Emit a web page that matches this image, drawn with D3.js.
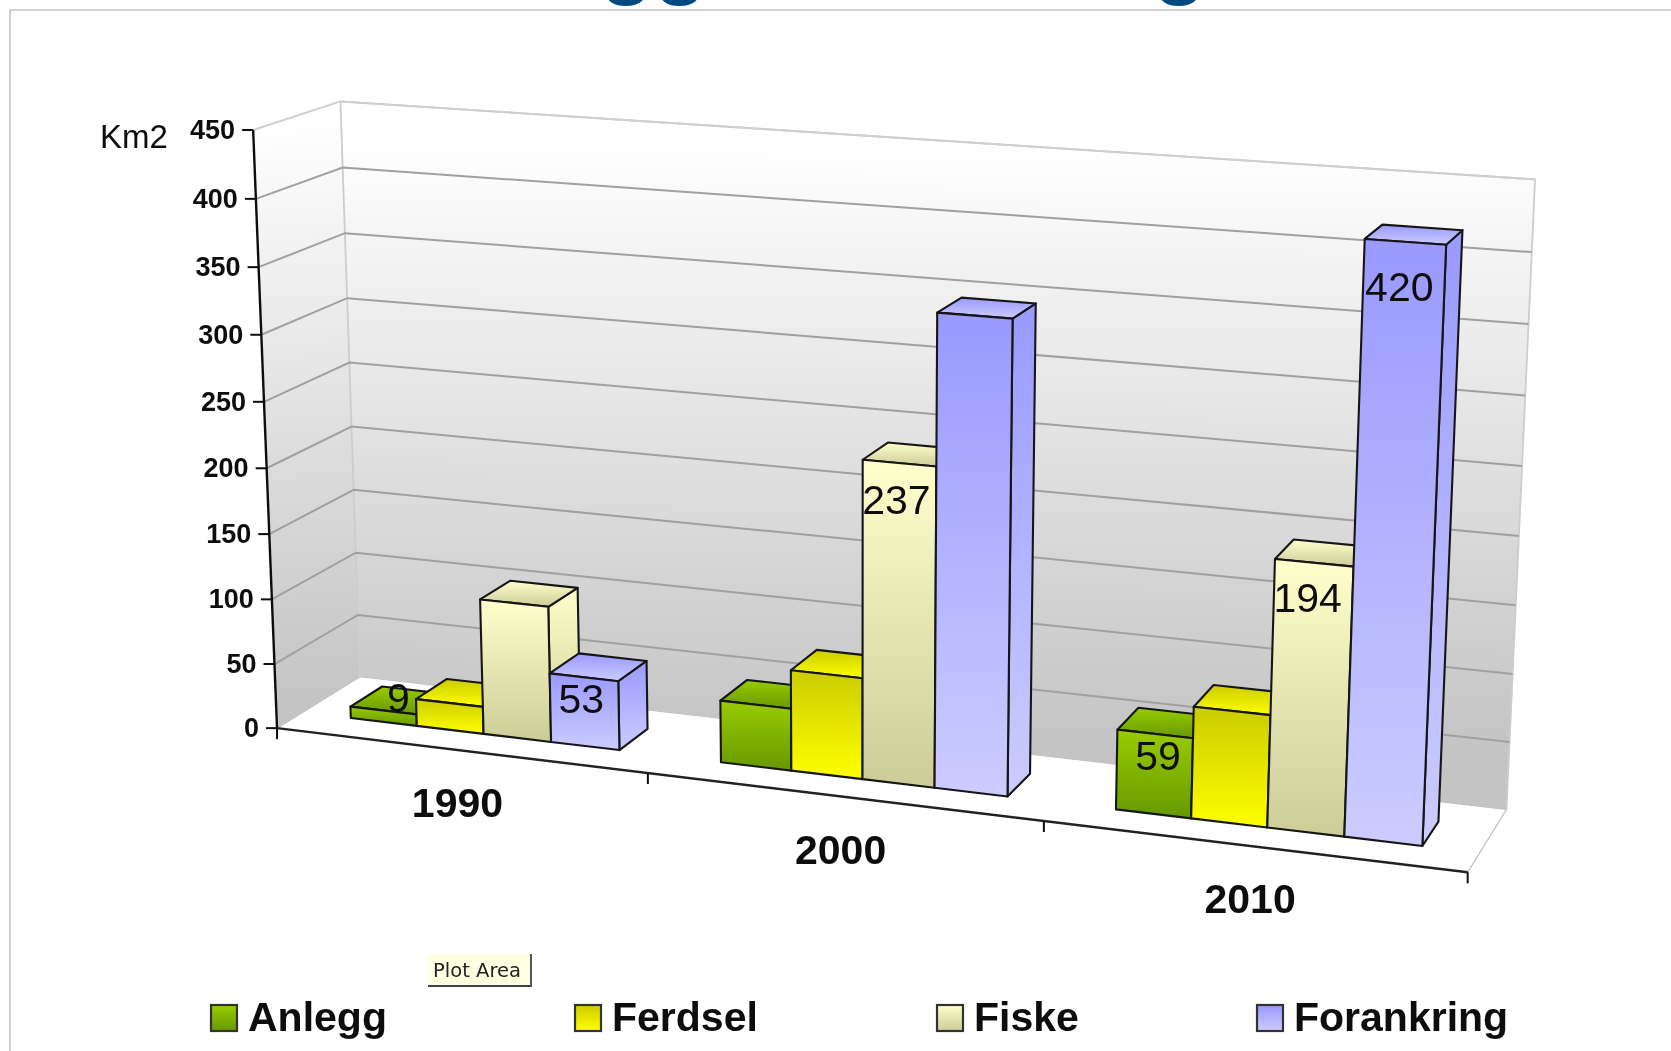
<!DOCTYPE html>
<html><head><meta charset="utf-8">
<script src="https://cdn.jsdelivr.net/npm/d3@7/dist/d3.min.js"></script>
<style>html,body{margin:0;padding:0;background:#fff;overflow:hidden}svg{display:block}text{font-family:"Liberation Sans",Arial,sans-serif}</style>
</head><body><svg id="c" width="1671" height="1051"></svg>
<script>
const categories = ["1990","2000","2010"];
const seriesNames = ["Anlegg","Ferdsel","Fiske","Forankring"];
const anlegg = [9,47,59];
const ferdsel = [21,76,82];
const fiske = [104,237,194];
const forankring = [53,347,420];
const allSeries = [anlegg,ferdsel,fiske,forankring];
const valueTicks = d3.range(0,451,50);
// which values carry a printed label: [series, category, nudge x, nudge y]
const labelled = [[0,0,15,-28.6],[3,0,-2.5,5.5],[2,1,-3,21],[0,2,3,6.5],[2,2,-6.5,19],[3,2,-6,29.5]];
const seriesTop = ["#99cc00","#cccc00","#ffffcc","#9999ff"];
const seriesBottom = ["#669900","#ffff00","#cccc99","#ccccff"];

// perspective camera fitted to the box corners of the plot
const anchors = [
 [0,0,0,277,727.7],[0,1,0,252.6,131],[0,0,1,360,677],[0,1,1,341,100.5],
 [3,0,1,1506,810],[3,1,1,1535,179.3],[3,0,0,1468.3,871.7]];
function fitCamera(pts){
  const A=[],b=[];
  pts.forEach(([x,y,z,u,v])=>{
    A.push([x,y,z,1,0,0,0,0,-u*x,-u*y,-u*z]);b.push(u);
    A.push([0,0,0,0,x,y,z,1,-v*x,-v*y,-v*z]);b.push(v);
  });
  const n=11,M=d3.range(n).map(i=>d3.range(n+1).map(j=>{
    let s=0;A.forEach((r,k)=>{s+=r[i]*(j<n?r[j]:b[k]);});return s;}));
  for(let i=0;i<n;i++){
    let p=i;for(let k=i+1;k<n;k++)if(Math.abs(M[k][i])>Math.abs(M[p][i]))p=k;
    [M[i],M[p]]=[M[p],M[i]];
    for(let k=0;k<n;k++)if(k!==i){const f=M[k][i]/M[i][i];for(let j=i;j<=n;j++)M[k][j]-=f*M[i][j];}
  }
  return M.map((r,i)=>r[n]/r[i]);
}
const cam=fitCamera(anchors);
const yScale=d3.scaleLinear().domain([0,450]).range([0,1]);
const xScale=d3.scaleBand().domain(categories).range([0,3]).padding(0).paddingInner(0);
const P=(x,v,z)=>{
  const y=yScale(v),w=cam[8]*x+cam[9]*y+cam[10]*z+1;
  return [(cam[0]*x+cam[1]*y+cam[2]*z+cam[3])/w,(cam[4]*x+cam[5]*y+cam[6]*z+cam[7])/w];
};
const line=d3.line();
const poly=pts=>line(pts)+"Z";

const svg=d3.select("#c");
const defs=svg.append("defs");
defs.append("filter").attr("id","soft").append("feGaussianBlur").attr("stdDeviation",0.7);
seriesNames.forEach((s,i)=>{
  const g=defs.append("linearGradient").attr("id","g"+i).attr("x1",0).attr("y1",0).attr("x2",0).attr("y2",1);
  g.append("stop").attr("offset",0).attr("stop-color",seriesTop[i]);
  g.append("stop").attr("offset",1).attr("stop-color",seriesBottom[i]);
});
function wallGrad(id,a,b){
  const g=defs.append("linearGradient").attr("id",id).attr("gradientUnits","userSpaceOnUse")
    .attr("x1",a[0]).attr("y1",a[1]).attr("x2",b[0]).attr("y2",b[1]);
  g.append("stop").attr("offset",0).attr("stop-color","#ffffff");
  g.append("stop").attr("offset",1).attr("stop-color","#c4c4c4");
}
const mid=(a,b)=>[(a[0]+b[0])/2,(a[1]+b[1])/2];
wallGrad("wallBack",mid(P(0,450,1),P(3,450,1)),mid(P(0,0,1),P(3,0,1)));
wallGrad("wallSide",mid(P(0,450,0),P(0,450,1)),mid(P(0,0,0),P(0,0,1)));

// page frame and clipped title fragments
svg.append("path").attr("d","M10,1051V10H1671").attr("fill","none").attr("stroke","#c4c4c4").attr("stroke-width",1.5);
const titleG=svg.append("g");
[["gg",600],["g",1153]].forEach(([t,x])=>titleG.append("text").text(t).attr("x",x).attr("y",-12)
  .attr("font-size",88).attr("font-weight","bold").attr("fill","#004a80"));

const root=svg.append("g").attr("filter","url(#soft)");
// floor and walls
root.append("path").attr("d",poly([P(0,0,0),P(3,0,0),P(3,0,1),P(0,0,1)])).attr("fill","#fff")
  .attr("stroke","#bdbdbd").attr("stroke-width",1.2);
root.append("path").attr("d",poly([P(0,0,0),P(0,450,0),P(0,450,1),P(0,0,1)])).attr("fill","url(#wallSide)");
root.append("path").attr("d",poly([P(0,0,1),P(0,450,1),P(3,450,1),P(3,0,1)])).attr("fill","url(#wallBack)");
// walls' outlines
root.append("path").attr("d",line([P(0,0,1),P(0,450,1),P(3,450,1),P(3,0,1)])).attr("fill","none").attr("stroke","#cdcdcd").attr("stroke-width",1.8);
// gridlines
root.append("g").selectAll("path").data(valueTicks.filter(d=>d>0)).join("path")
  .attr("d",d=>line([P(0,d,0),P(0,d,1),P(3,d,1)])).attr("fill","none")
  .attr("stroke",d=>d===450?"#cfcfcf":"#a0a0a0").attr("stroke-width",2);

// axes
const ax=root.append("g").attr("stroke","#111").attr("fill","none");
ax.append("path").attr("d",line([P(0,0,0),P(0,450,0)])).attr("stroke-width",2.4);
ax.append("path").attr("d",line([P(0,0,0),P(3,0,0)])).attr("stroke-width",2.4).attr("stroke","#222");
valueTicks.forEach(v=>{const p=P(0,v,0);ax.append("path").attr("d",line([[p[0]-11,p[1]],p])).attr("stroke-width",2);});
d3.range(0,4).forEach(c=>{const p=P(c,0,0);ax.append("path").attr("d",line([p,[p[0],p[1]+11]])).attr("stroke-width",2);});

root.append("g").selectAll("text").data(valueTicks).join("text").text(d=>d)
  .attr("x",d=>P(0,d,0)[0]-18).attr("y",d=>P(0,d,0)[1]).attr("dy","0.33em").attr("text-anchor","end")
  .attr("font-size",27).attr("font-weight","bold").attr("fill","#111");
root.append("text").text("Km2").attr("x",100).attr("y",148).attr("font-size",33).attr("fill","#111");

root.append("g").selectAll("text").data(categories).join("text").text(d=>d)
  .attr("x",d=>P(xScale(d)+xScale.bandwidth()/2,0,0)[0]-2)
  .attr("y",d=>P(xScale(d)+xScale.bandwidth()/2,0,0)[1]+67)
  .attr("text-anchor","middle").attr("font-size",41).attr("font-weight","bold").attr("fill","#111");

// bars
const gapSide=0.135, barW=0.183, zFront=0.3, zBack=0.69;
const barX=(c,s)=>xScale(categories[c])+gapSide+s*barW;
categories.forEach((cat,c)=>{
  seriesNames.forEach((name,s)=>{
    const v=allSeries[s][c],x0=barX(c,s),x1=x0+barW;
    const g=root.append("g").attr("stroke","#161616").attr("stroke-width",2.1).attr("stroke-linejoin","round");
    g.append("path").attr("d",poly([P(x1,0,zFront),P(x1,v,zFront),P(x1,v,zBack),P(x1,0,zBack)])).attr("fill",`url(#g${s})`);
    g.append("path").attr("d",poly([P(x0,v,zFront),P(x1,v,zFront),P(x1,v,zBack),P(x0,v,zBack)])).attr("fill",`url(#g${s})`);
    g.append("path").attr("d",poly([P(x0,0,zFront),P(x0,v,zFront),P(x1,v,zFront),P(x1,0,zFront)])).attr("fill",`url(#g${s})`);
  });
});
// data labels
labelled.forEach(([s,c,nx,ny])=>{
  const v=allSeries[s][c],p=P(barX(c,s)+barW/2,v,zFront);
  root.append("text").text(v).attr("x",p[0]+nx).attr("y",p[1]+ny+30).attr("text-anchor","middle")
    .attr("font-size",41).attr("fill","#111");
});

// legend
const legendX=d3.scaleOrdinal().domain(seriesNames).range([211,575,937,1257]);
const lg=root.append("g");
seriesNames.forEach((n,i)=>{
  const x=legendX(n);
  lg.append("rect").attr("x",x).attr("y",1005).attr("width",26).attr("height",26)
    .attr("fill",`url(#g${i})`).attr("stroke","#333").attr("stroke-width",2.2);
  lg.append("text").text(n).attr("x",x+37).attr("y",1031).attr("font-size",41).attr("font-weight","bold").attr("fill","#111");
});
// tooltip
const tip=root.append("g");
tip.append("rect").attr("x",428).attr("y",954).attr("width",103).attr("height",32).attr("fill","#ffffe1");
tip.append("path").attr("d","M428,986H531V954").attr("fill","none").attr("stroke","#444").attr("stroke-width",1.8);
tip.append("text").text("Plot Area").attr("x",477).attr("y",977).attr("text-anchor","middle").attr("font-size",20)
  .style("font-family","'DejaVu Sans'").attr("textLength",88).attr("lengthAdjust","spacingAndGlyphs").attr("fill","#222");
</script></body></html>
